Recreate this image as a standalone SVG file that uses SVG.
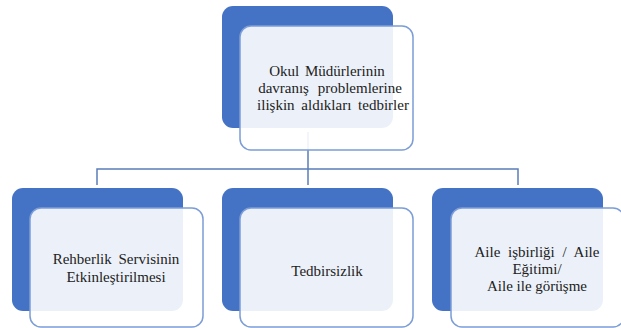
<svg xmlns="http://www.w3.org/2000/svg" width="621" height="328" viewBox="0 0 621 328">
<style>
.dark{fill:#4472C4}
.light{fill:#ffffff;fill-opacity:0.9;stroke:#7C9DD6;stroke-width:1.5}
.conn{fill:none;stroke:#5A7DB9;stroke-width:1.5}
.t{font-family:'Liberation Serif','Times New Roman',serif;font-size:15px;fill:#222222;text-anchor:middle}
</style>
<rect width="621" height="328" fill="#ffffff"/>
<g id="connectors">
<path class="conn" d="M308,132 V169 M97,185 V169 H518 V185 M308,169 V185"/>
</g>
<g id="top">
<rect class="dark" x="222" y="6" width="171" height="122" rx="11"/>
<rect class="light" x="240" y="26" width="173" height="124" rx="11"/>
<text class="t" x="327" y="76" word-spacing="2">Okul Müdürlerinin</text>
<text class="t" x="330" y="93" word-spacing="5">davranış problemlerine</text>
<text class="t" x="333" y="110" word-spacing="3">ilişkin aldıkları tedbirler</text>
</g>
<g id="left">
<rect class="dark" x="12" y="188" width="171" height="123" rx="11"/>
<rect class="light" x="30" y="208" width="173" height="119" rx="11"/>
<text class="t" x="116" y="264" word-spacing="3">Rehberlik Servisinin</text>
<text class="t" x="116" y="282">Etkinleştirilmesi</text>
</g>
<g id="middle">
<rect class="dark" x="222" y="188" width="171" height="123" rx="11"/>
<rect class="light" x="240" y="208" width="173" height="119" rx="11"/>
<text class="t" x="327" y="276">Tedbirsizlik</text>
</g>
<g id="right">
<rect class="dark" x="432" y="188" width="171" height="123" rx="11"/>
<rect class="light" x="451" y="208" width="173" height="119" rx="11"/>
<text class="t" x="537" y="257" word-spacing="4">Aile işbirliği / Aile</text>
<text class="t" x="537" y="274">Eğitimi/</text>
<text class="t" x="537" y="291">Aile ile görüşme</text>
</g>
</svg>
